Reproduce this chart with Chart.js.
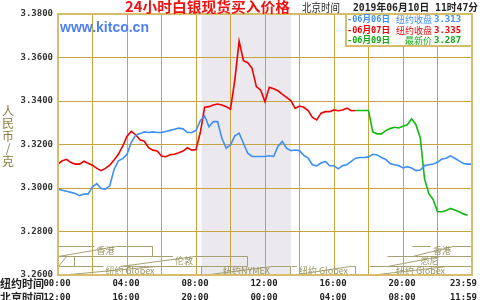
<!DOCTYPE html>
<html>
<head>
<meta charset="utf-8">
<script src="https://cdn.jsdelivr.net/npm/chart.js@4.4.1/dist/chart.umd.min.js"></script>
<style>
  html, body { margin: 0; padding: 0; background: #fff; }
</style>
</head>
<body>
<canvas id="grafico" width="480" height="300"></canvas>
<script>
// valores a cada 15 minutos (hora de Nova York)
const step = 0.25;
const blueStart = 0;
const blueValues = [
  3.2995, 3.2990, 3.2985, 3.2980, 3.2975, 3.2965, 3.2972, 3.2973,
  3.3005, 3.3020, 3.2998, 3.2995, 3.3010, 3.3085, 3.3125, 3.3135,
  3.3155, 3.3210, 3.3243, 3.3250, 3.3258, 3.3255, 3.3258, 3.3255,
  3.3255, 3.3260, 3.3265, 3.3270, 3.3275, 3.3272, 3.3255, 3.3255,
  3.3265, 3.3310, 3.3331, 3.3282, 3.3305, 3.3305, 3.3229, 3.3183,
  3.3198, 3.3240, 3.3252, 3.3206, 3.3160, 3.3145, 3.3145, 3.3145,
  3.3145, 3.3148, 3.3145, 3.3191, 3.3214, 3.3183, 3.3172, 3.3175,
  3.3172, 3.3150, 3.3137, 3.3107, 3.3102, 3.3115, 3.3122, 3.3102,
  3.3102, 3.3088, 3.3103, 3.3107, 3.3122, 3.3137, 3.3140, 3.3140,
  3.3143, 3.3155, 3.3152, 3.3140, 3.3131, 3.3113, 3.3107, 3.3103,
  3.3092, 3.3098, 3.3092, 3.3080, 3.3083, 3.3103, 3.3107, 3.3110,
  3.3118, 3.3133, 3.3137, 3.3148, 3.3137, 3.3125, 3.3113, 3.3110,
  3.3110
];
const redStart = 0;
const redValues = [
  3.3110, 3.3125, 3.3132, 3.3117, 3.3110, 3.3110, 3.3123, 3.3114,
  3.3105, 3.3090, 3.3080, 3.3090, 3.3105, 3.3129, 3.3155, 3.3192,
  3.3238, 3.3260, 3.3245, 3.3222, 3.3215, 3.3185, 3.3174, 3.3170,
  3.3147, 3.3144, 3.3153, 3.3155, 3.3162, 3.3170, 3.3185, 3.3174,
  3.3177, 3.3255, 3.3371, 3.3374, 3.3382, 3.3386, 3.3382, 3.3374,
  3.3362, 3.3496, 3.3675, 3.3585, 3.3576, 3.3550, 3.3466, 3.3450,
  3.3397, 3.3463, 3.3456, 3.3447, 3.3432, 3.3417, 3.3402, 3.3366,
  3.3377, 3.3371, 3.3356, 3.3325, 3.3313, 3.3344, 3.3351, 3.3351,
  3.3359, 3.3355, 3.3359, 3.3367, 3.3355, 3.3356
];
const greenStart = 17.25;
const greenValues = [
  3.3356, 3.3356, 3.3356, 3.3356, 3.3258, 3.3249, 3.3249, 3.3264,
  3.3273, 3.3279, 3.3276, 3.3284, 3.3291, 3.3318, 3.3291, 3.3231,
  3.3042, 3.2974, 3.2947, 3.2891, 3.2891, 3.2896, 3.2906, 3.2899,
  3.2891, 3.2881, 3.2875
];

// eixo x: horas
const labelHours = [0, 4, 8, 12, 16, 20, 24];
const nyTimes = ['00:00', '04:00', '08:00', '12:00', '16:00', '20:00', '23:59'];
const bjTimes = ['12:00', '16:00', '20:00', '00:00', '04:00', '08:00', '11:59'];

// faixa cinza (NYMEX)
const shadeFrom = 8.33;
const shadeTo = 13.5;

// mercados na parte de baixo
const sessionLabels = ['香港', '香港', '', '伦敦', '悉尼', '纽约 Globex', '纽约NYMEX', '纽约 Globex', '纽约 Globex'];
const sessionRows = [0, 0, 1, 1, 1, 2, 2, 2, 2];
const sessionFrom = [0, 20.5, 0, 3.6, 19.05, 0, 8.33, 13.5, 18];
const sessionTo = [5.5, 24, 1, 11, 24, 8.33, 13.5, 17.25, 24];

// legenda
const legendDates = ['-06月06日', '-06月07日', '-06月09日'];
const legendNotes = ['纽约收盘', '纽约收盘', '最新价'];
const legendValues = ['3.313', '3.335', '3.287'];
const legendColors = ['#3d8ff5', '#f00000', '#10a810'];

const toPoints = (start, vals) => vals.map((v, i) => ({ x: start + i * step, y: v }));

const GOLD = '#c9a33f';
const CJK = '"Noto Sans CJK SC"';
const MONO = '"DejaVu Sans Mono"';

const extras = {
  id: 'extras',
  beforeDraw(chart) {
    const { ctx, chartArea: a, scales: { x } } = chart;
    ctx.save();
    ctx.fillStyle = '#fff';
    ctx.fillRect(0, 0, chart.width, chart.height);
    const x0 = x.getPixelForValue(shadeFrom), x1 = x.getPixelForValue(shadeTo);
    ctx.fillStyle = '#ebe9ee';
    ctx.fillRect(x0, a.top, x1 - x0, a.bottom - a.top);
    ctx.restore();
  },
  afterDraw(chart) {
    const { ctx, chartArea: a, scales: { x } } = chart;
    ctx.save();

    // caixas dos mercados
    ctx.font = '9px ' + CJK;
    ctx.textAlign = 'center';
    ctx.textBaseline = 'middle';
    ctx.lineWidth = 1;
    sessionLabels.forEach((lab, i) => {
      const top = a.bottom - 29 + sessionRows[i] * 10;
      const h = sessionRows[i] === 2 ? 9 : 10;
      const l = Math.round(x.getPixelForValue(sessionFrom[i])) + 0.5;
      const r = Math.round(x.getPixelForValue(sessionTo[i])) - 0.5;
      const cx = (l + r) / 2;
      const tw = lab ? ctx.measureText(lab).width + 4 : 0;
      ctx.strokeStyle = '#a8a070';
      ctx.beginPath();
      ctx.moveTo(l, top + 0.5);
      ctx.lineTo(cx - tw / 2, top + 0.5);
      ctx.moveTo(cx + tw / 2, top + 0.5);
      ctx.lineTo(r, top + 0.5);
      ctx.lineTo(r, top + h + 0.5);
      ctx.lineTo(l, top + h + 0.5);
      ctx.closePath();
      ctx.stroke();
      if (lab) {
        ctx.fillStyle = '#9a9462';
        ctx.fillText(lab, cx, top + 5);
      }
    });

    // moldura
    ctx.strokeStyle = '#d6bd6c';
    ctx.lineWidth = 2;
    ctx.strokeRect(a.left, a.top, a.right - a.left, a.bottom - a.top);

    // titulo
    ctx.textAlign = 'left';
    ctx.textBaseline = 'middle';
    ctx.fillStyle = '#f21010';
    ctx.font = 'bold 14px ' + CJK;
    const title = '24小时白银现货买入价格';
    const tw = ctx.measureText(title).width;
    ctx.save();
    ctx.translate(125, 7);
    ctx.scale(165 / tw, 1);
    ctx.fillText(title, 0, 0);
    ctx.restore();

    ctx.fillStyle = '#222';
    ctx.font = '11px ' + CJK;
    ctx.fillText('北京时间', 302, 8, 38);
    ctx.font = 'bold 10px ' + MONO + ', ' + CJK;
    ctx.fillText('2019年06月10日 11时47分', 353, 8, 125);

    // marca d'agua
    ctx.fillStyle = '#4f80f0';
    ctx.font = 'bold 14px "Liberation Sans"';
    ctx.fillText('www.kitco.cn', 60, 28);

    // legenda
    const lx = 346, ly = 14;
    ctx.fillStyle = '#fff';
    ctx.fillRect(lx, ly, 126, 32);
    ctx.strokeStyle = '#d6bd6c';
    ctx.lineWidth = 2;
    ctx.strokeRect(lx, ly, 126, 32);
    legendDates.forEach((d, i) => {
      const yy = 19.5 + i * 10.7;
      ctx.fillStyle = legendColors[i];
      ctx.textAlign = 'left';
      ctx.font = 'bold 9px ' + MONO + ', ' + CJK;
      ctx.fillText(d, 347, yy, 43);
      ctx.textAlign = 'right';
      ctx.font = '9px ' + CJK;
      ctx.fillText(legendNotes[i], 432, yy);
      ctx.textAlign = 'left';
      ctx.font = 'bold 9px ' + MONO;
      ctx.fillText(legendValues[i], 434, yy);
    });

    // titulo do eixo y
    ctx.fillStyle = '#8a7e3e';
    ctx.font = '12px ' + CJK;
    ctx.textAlign = 'center';
    ['人', '民', '币', '/', '克'].forEach((c, i) => ctx.fillText(c, 8, 111 + i * 12.5));

    // horarios
    ctx.fillStyle = '#222';
    ctx.textAlign = 'left';
    ctx.font = 'bold 11px ' + CJK;
    ctx.fillText('纽约时间', 0, 283.5);
    ctx.fillText('北京时间', 0, 297.5);
    ctx.font = 'bold 9px ' + MONO;
    labelHours.forEach((hh, i) => {
      const px = x.getPixelForValue(hh);
      if (i === labelHours.length - 1) {
        ctx.textAlign = 'right';
        ctx.fillText(nyTimes[i], 477, 283.5);
        ctx.fillText(bjTimes[i], 477, 297.5);
      } else {
        ctx.textAlign = 'center';
        ctx.fillText(nyTimes[i], px - 1, 283.5);
        ctx.fillText(bjTimes[i], px - 1, 297.5);
      }
    });
    ctx.restore();
  }
};

const dados = {
  datasets: [
    { label: '06月06日', data: toPoints(blueStart, blueValues), borderColor: '#3d8ff5' },
    { label: '06月07日', data: toPoints(redStart, redValues), borderColor: '#f00000' },
    { label: '06月09日', data: toPoints(greenStart, greenValues), borderColor: '#10b810' }
  ]
};

const config = {
  type: 'line',
  data: dados,
  options: {
    responsive: false,
    animation: false,
    layout: { padding: { top: 14, right: 8, left: 0, bottom: 0 } },
    elements: { point: { radius: 0 }, line: { borderWidth: 1.6, tension: 0 } },
    plugins: { legend: { display: false }, tooltip: { enabled: false } },
    scales: {
      x: {
        type: 'linear', min: 0, max: 24,
        ticks: { display: false, stepSize: 2 },
        grid: { color: GOLD, lineWidth: 1, drawTicks: false },
        border: { display: false },
        afterFit: s => { s.height = 25; }
      },
      y: {
        min: 3.26, max: 3.38,
        ticks: {
          stepSize: 0.02, padding: 5, color: '#333',
          font: { family: 'DejaVu Sans Mono', size: 9, weight: 'bold' },
          callback: v => v.toFixed(4)
        },
        grid: { color: GOLD, lineWidth: 1, drawTicks: false },
        border: { display: false },
        afterFit: s => { s.width = 58; }
      }
    }
  },
  plugins: [extras]
};

// criação do gráfico
const ctx = document.getElementById('grafico').getContext('2d');
const grafico = new Chart(ctx, config);
</script>
</body>
</html>
